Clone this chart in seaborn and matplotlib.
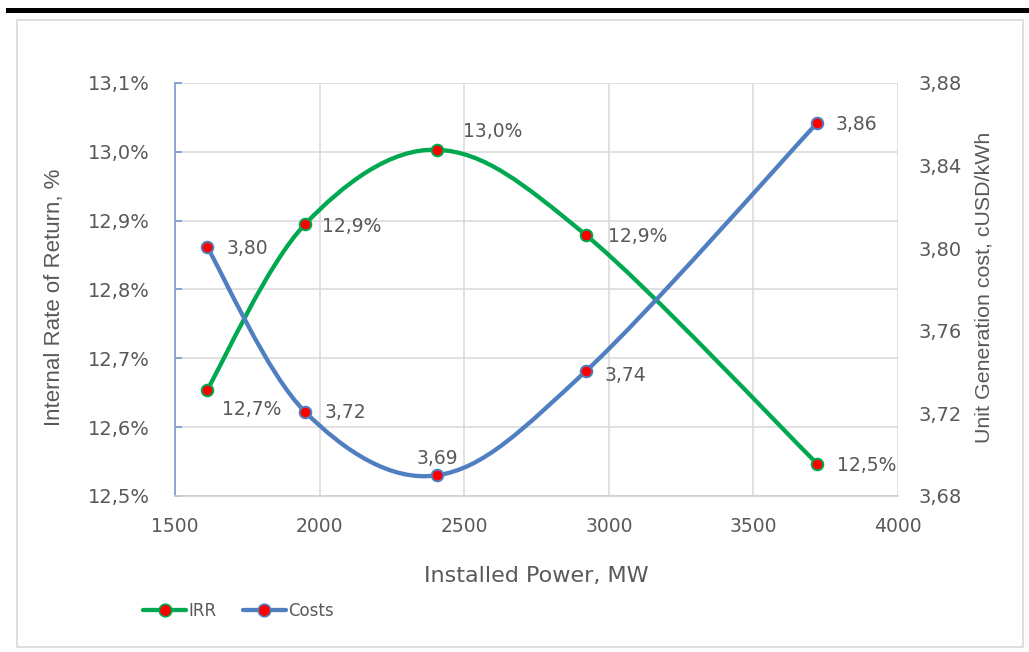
import matplotlib
matplotlib.use("Agg")
import matplotlib.pyplot as plt
from matplotlib.path import Path
from matplotlib.patches import PathPatch, Rectangle
from matplotlib.lines import Line2D
from matplotlib.ticker import FuncFormatter, MultipleLocator
import pandas as pd
import seaborn as sns

# Installed power scenarios and their economic indicators
power_mw = [1611, 1950, 2406, 2921, 3720]
irr_pct = [12.654, 12.895, 13.003, 12.879, 12.547]
cost_cusd_kwh = [3.8006, 3.7207, 3.6900, 3.7405, 3.8606]

x_ticks = [1500, 2000, 2500, 3000, 3500, 4000]
irr_ticks = [12.5, 12.6, 12.7, 12.8, 12.9, 13.0, 13.1]
cost_ticks = [3.68, 3.72, 3.76, 3.80, 3.84, 3.88]

# label offsets (pixels) relative to each marker
irr_offsets = [(15, -20, "left"), (17, -2, "left"), (26, 18, "left"), (22, -1, "left"), (20, -2, "left")]
cost_offsets = [(19, -2, "left"), (19, -1, "left"), (0, 17, "center"), (19, -4, "left"), (19, -1, "left")]

GREEN = "#00A84F"
BLUE = "#4F7FC0"
TEXT = "#595959"
GRID = "#D9D9D9"

sns.set_theme(style="white")
plt.rcParams["font.family"] = ["DejaVu Sans"]

df = pd.DataFrame({"power": power_mw, "irr": irr_pct, "cost": cost_cusd_kwh})


def fmt_dec(v, nd):
    return f"{v:.{nd}f}".replace(".", ",")


def smooth_path(xs, ys):
    """Bezier path through the points with neighbour-based tangents."""
    pts = list(zip(xs, ys))
    n = len(pts)
    verts = [pts[0]]
    codes = [Path.MOVETO]
    for i in range(n - 1):
        p0 = pts[i - 1] if i > 0 else pts[i]
        p1 = pts[i]
        p2 = pts[i + 1]
        p3 = pts[i + 2] if i + 2 < n else pts[i + 1]
        c1 = (p1[0] + (p2[0] - p0[0]) / 6, p1[1] + (p2[1] - p0[1]) / 6)
        c2 = (p2[0] - (p3[0] - p1[0]) / 6, p2[1] - (p3[1] - p1[1]) / 6)
        verts += [c1, c2, p2]
        codes += [Path.CURVE4] * 3
    return Path(verts, codes)


fig = plt.figure(figsize=(10.29, 6.52), dpi=100)
ax = fig.add_axes([0.1701, 0.2393, 0.7026, 0.6334])
ax2 = ax.twinx()

ax.set_xlim(1500, 4000)
ax.set_ylim(12.5, 13.1)
ax2.set_ylim(3.68, 3.88)

# grid
ax.set_xticks(x_ticks)
ax.set_yticks(irr_ticks)
ax2.set_yticks(cost_ticks)
ax.grid(True, color=GRID, lw=1.1)
ax.set_axisbelow(True)
ax.xaxis.set_minor_locator(MultipleLocator(100))

for s in ["top", "right"]:
    ax.spines[s].set_visible(False)
for s in ["top", "right", "left", "bottom"]:
    ax2.spines[s].set_visible(False)
ax.spines["left"].set_color("#7A9BD0")
ax.spines["left"].set_linewidth(1.2)
ax.spines["bottom"].set_color("#CFCFCF")
ax.spines["bottom"].set_linewidth(1.2)

ax.tick_params(axis="x", which="both", direction="in", length=5, color="#CFCFCF",
               labelsize=13.5, labelcolor=TEXT, pad=15)
ax.tick_params(axis="x", which="major", length=0)
ax.tick_params(axis="y", direction="in", length=5, color="#7A9BD0",
               labelsize=14, labelcolor=TEXT, pad=18)
ax2.tick_params(axis="y", length=0, labelsize=14, labelcolor=TEXT, pad=14.5)

ax.yaxis.set_major_formatter(FuncFormatter(lambda v, p: fmt_dec(v, 1) + "%"))
ax2.yaxis.set_major_formatter(FuncFormatter(lambda v, p: fmt_dec(v, 2)))

# smooth series lines
ax.add_patch(PathPatch(smooth_path(power_mw, irr_pct), facecolor="none",
                       edgecolor=GREEN, lw=3.1, capstyle="round", zorder=3))
ax2.add_patch(PathPatch(smooth_path(power_mw, cost_cusd_kwh), facecolor="none",
                        edgecolor=BLUE, lw=3.1, capstyle="round", zorder=3))

# markers
sns.scatterplot(data=df, x="power", y="irr", ax=ax, s=70, color="red",
                edgecolor=GREEN, linewidth=1.4, zorder=5, legend=False)
sns.scatterplot(data=df, x="power", y="cost", ax=ax2, s=70, color="red",
                edgecolor=BLUE, linewidth=1.4, zorder=5, legend=False)

# data labels
for xv, yv, (dx, dy, ha) in zip(power_mw, irr_pct, irr_offsets):
    ax.annotate(fmt_dec(yv, 1) + "%", (xv, yv), xytext=(dx, dy),
                textcoords="offset pixels", ha=ha, va="center",
                fontsize=13.5, color=TEXT, zorder=6)
for xv, yv, (dx, dy, ha) in zip(power_mw, cost_cusd_kwh, cost_offsets):
    ax2.annotate(fmt_dec(yv, 2), (xv, yv), xytext=(dx, dy),
                 textcoords="offset pixels", ha=ha, va="center",
                 fontsize=13.5, color=TEXT, zorder=6)

ax.set_xlabel("Installed Power, MW", fontsize=16, color=TEXT, labelpad=0)
ax.xaxis.set_label_coords(0.5, -0.17)
ax.set_ylabel("Internal Rate of Return, %", fontsize=16, color=TEXT,
              family="Liberation Sans")
ax.yaxis.set_label_coords(-0.152, 0.482)
ax2.set_ylabel("Unit Generation cost, cUSD/kWh", fontsize=15.4, color=TEXT,
               family="Liberation Sans")
ax2.yaxis.set_label_coords(1.106, 0.505)

# legend
handles = [
    Line2D([], [], color=GREEN, lw=3.1, marker="o", markersize=9,
           markerfacecolor="red", markeredgecolor=GREEN, markeredgewidth=1.2),
    Line2D([], [], color=BLUE, lw=3.1, marker="o", markersize=9,
           markerfacecolor="red", markeredgecolor=BLUE, markeredgewidth=1.2),
]
fig.legend(handles, ["IRR", "Costs"], loc="center left",
           bbox_to_anchor=(128 / 1029, 1 - 611 / 652), ncol=2, frameon=False,
           fontsize=12, labelcolor=TEXT, handlelength=2.6, handletextpad=0.1,
           columnspacing=1.6)

# chart frame and top rule
fig.patches.append(Rectangle((17 / 1029, 1 - 647 / 652), (1023 - 17) / 1029,
                             (647 - 20) / 652, transform=fig.transFigure,
                             facecolor="none", edgecolor="#D9D9D9", lw=1.2))
fig.patches.append(Rectangle((6 / 1029, 1 - 13 / 652), 1 - 6 / 1029, 5 / 652,
                             transform=fig.transFigure, facecolor="black",
                             edgecolor="none"))

fig.savefig("out.png", dpi=100)
